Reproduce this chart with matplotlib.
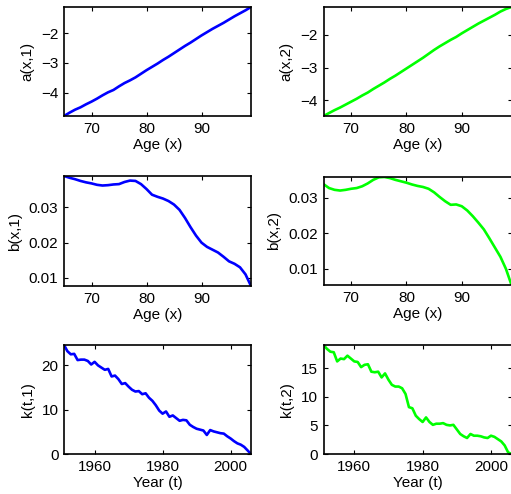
#!/usr/bin/env python3

import matplotlib
matplotlib.use('Agg')
import matplotlib.pyplot as plt
import numpy as np

ages = np.arange(65, 100)
years = np.arange(1951, 2007)

a1 = [-4.77, -4.66, -4.56, -4.48, -4.38, -4.29, -4.19, -4.08, -3.98, -3.90,
      -3.78, -3.67, -3.58, -3.48, -3.36, -3.24, -3.13, -3.02, -2.90, -2.79,
      -2.67, -2.55, -2.43, -2.32, -2.20, -2.08, -1.97, -1.86, -1.76, -1.66,
      -1.55, -1.44, -1.34, -1.24, -1.13]
a2 = [-4.49, -4.40, -4.31, -4.23, -4.14, -4.05, -3.96, -3.86, -3.77, -3.66,
      -3.56, -3.46, -3.35, -3.25, -3.14, -3.03, -2.92, -2.81, -2.70, -2.58,
      -2.46, -2.35, -2.25, -2.15, -2.06, -1.95, -1.85, -1.75, -1.65, -1.56,
      -1.47, -1.38, -1.28, -1.20, -1.14]
b1 = [.0389, .0384, .0380, .0375, .0371, .0368, .0364, .0362, .0363, .0365,
      .0366, .0372, .0376, .0375, .0366, .0352, .0336, .0330, .0325, .0318,
      .0308, .0293, .0270, .0244, .0220, .0200, .0188, .0180, .0172, .0160,
      .0147, .0140, .0130, .0110, .0077]
b2 = [.0338, .0327, .0322, .0320, .0322, .0325, .0327, .0332, .0340, .0350,
      .0357, .0358, .0355, .0350, .0346, .0342, .0337, .0333, .0330, .0325,
      .0315, .0302, .0290, .0280, .0281, .0276, .0264, .0248, .0230, .0211,
      .0186, .0160, .0134, .0100, .0055]
k1 = [24.6, 23.2, 22.5, 22.6, 21.2, 21.3, 21.3, 21.0, 20.2, 20.8,
      20.0, 19.5, 19.0, 19.2, 17.5, 17.7, 16.9, 15.8, 16.0, 15.2,
      14.5, 14.1, 14.2, 13.5, 13.7, 12.7, 12.0, 11.0, 9.8, 9.1,
      9.6, 8.4, 8.7, 8.1, 7.5, 7.7, 7.6, 6.6, 6.1, 5.7,
      5.5, 5.3, 4.3, 5.4, 5.1, 4.9, 4.7, 4.6, 4.0, 3.5,
      2.9, 2.4, 2.1, 1.6, 0.8, 0.0]
k2 = [19.07, 18.4, 17.9, 17.8, 16.2, 16.7, 16.6, 17.2, 16.7, 16.2,
      16.1, 15.2, 15.6, 15.7, 14.4, 14.3, 14.4, 13.4, 14.1, 13.0,
      12.1, 11.8, 11.8, 11.5, 10.5, 8.2, 8.0, 6.7, 6.1, 5.6,
      6.4, 5.6, 5.1, 5.3, 5.3, 5.4, 5.1, 5.0, 5.1, 4.3,
      3.5, 3.1, 2.8, 3.5, 3.2, 3.2, 3.1, 2.9, 2.8, 3.2,
      3.0, 2.6, 2.2, 1.5, 0.3, 0.0]

plt.rcParams['font.family'] = ['Liberation Sans', 'DejaVu Sans']
plt.rcParams['font.size'] = 11

fig = plt.figure(figsize=(5.11, 4.94), dpi=100)

W, H = 511, 494
def pos(x0, x1, y0, y1):
    return [x0 / W, 1 - y1 / H, (x1 - x0) / W, (y1 - y0) / H]

panels = [
    (pos(64, 251, 7, 116), ages, a1, 'b', 'a(x,1)', 'Age (x)', [70, 80, 90], [-4, -3, -2]),
    (pos(323.5, 511.5, 7, 116), ages, a2, '#00ff00', 'a(x,2)', 'Age (x)', [70, 80, 90], [-4, -3, -2]),
    (pos(64, 251, 176, 286), ages, b1, 'b', 'b(x,1)', 'Age (x)', [70, 80, 90], [0.01, 0.02, 0.03]),
    (pos(323.5, 511.5, 177, 285), ages, b2, '#00ff00', 'b(x,2)', 'Age (x)', [70, 80, 90], [0.01, 0.02, 0.03]),
    (pos(64, 251, 345, 454), years, k1, 'b', 'k(t,1)', 'Year (t)', [1960, 1980, 2000], [0, 10, 20]),
    (pos(323.5, 511.5, 345, 454), years, k2, '#00ff00', 'k(t,2)', 'Year (t)', [1960, 1980, 2000], [0, 5, 10, 15]),
]

for rect, x, y, col, ylab, xlab, xt, yt in panels:
    ax = fig.add_axes(rect)
    ax.plot(x, y, color=col, lw=1.9)
    ax.set_xlim(x[0], x[-1])
    ax.set_ylim(min(y), max(y))
    ax.set_xticks(xt)
    ax.set_yticks(yt)
    ax.set_xlabel(xlab, labelpad=2)
    ax.set_ylabel(ylab, labelpad=5)
    ax.tick_params(direction='in', length=3, width=0.8, top=True, right=True,
                   labelsize=11, pad=4)
    for s in ax.spines.values():
        s.set_linewidth(1.2)

fig.savefig('out.png', dpi=100)
